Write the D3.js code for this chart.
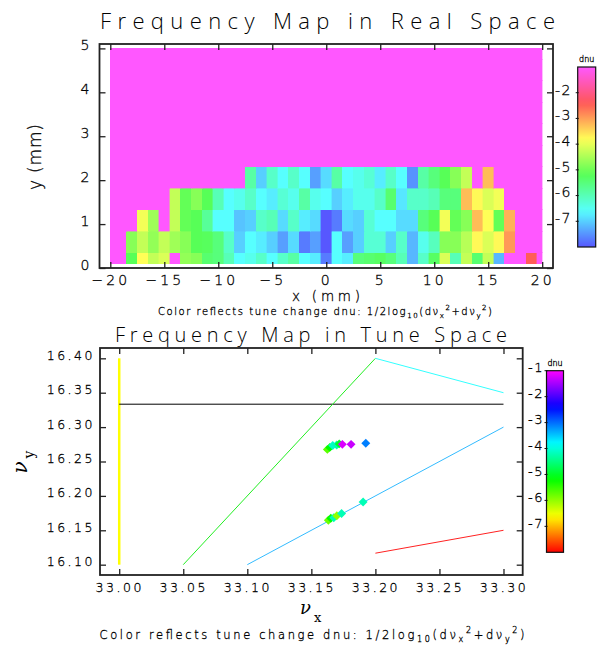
<!DOCTYPE html>
<html>
<head>
<meta charset="utf-8">
<script src="https://cdn.jsdelivr.net/npm/d3@7/dist/d3.min.js"></script>
<style>
  body { margin: 0; background: #fff; }
  svg text { font-family: "DejaVu Sans", sans-serif; font-weight: 200; fill: #000; stroke: #000; stroke-width: 0.3px; }
  svg text.title { font-family: "Open Sans", "DejaVu Sans", sans-serif; font-weight: 300; stroke: none; }
</style>
</head>
<body>
<div id="chart"></div>
<script>
/* DATA */
const _ = null; // lost particle (drawn with the top colour)

// real space grid, x in mm and y in mm
const xGrid = d3.range(-20, 21);
const yGrid = [0.1, 0.59, 1.08, 1.57, 2.06, 2.55, 3.04, 3.53, 4.02, 4.51, 5.0];

// dnu per cell, x = -20 .. 20, one array per y row (rows above y=2.06 are all lost)
const dnuRow0 = [_, _, -5.2, -3.8, -4.3, -4.1, _, -4.7, -4.8, -5.4, -5.5, -6.0, -6.6, -6.45, -6.15, -6.6, -6.15, -5.85, -6.6, -6.75,
  -7.7, -6.6, -6.75, -5.5, -5.4, -5.3, -5.5, -6.0, -7.2, -6.15, -5.3, -4.1, -6.0, -4.3, -5.4, -4.3, -7.2, _, _, -2.45, _];
const dnuRow1 = [_, _, -4.8, -4.3, -4.7, -4.3, -4.6, -4.8, -5.2, -5.25, -5.5, -6.15, -7.0, -6.6, -6.75, -7.0, -7.4, -6.9, -7.7, -7.4,
  -8.0, -6.6, -7.4, -7.0, -6.25, -6.25, -7.0, -6.15, -7.2, -6.45, -6.05, -4.8, -4.8, -4.4, -3.75, -4.1, -3.75, -2.95, _, _, _];
const dnuRow2 = [_, _, _, -3.9, -4.6, _, -4.3, -5.1, -5.2, -5.75, -6.6, -6.6, -7.1, -7.0, -6.15, -6.0, -6.9, -6.15, -6.75, -6.9,
  -8.0, -7.7, -6.9, -7.0, -6.25, -6.6, -6.6, -6.9, -6.9, -5.5, -5.2, -3.9, -5.1, -4.8, -3.25, -3.8, -5.1, -3.15, _, _, _];
const dnuRow3 = [_, _, _, _, _, _, -4.3, -5.1, -4.8, -5.2, -6.0, -6.6, -6.45, -6.15, -6.6, -6.75, -6.25, -6.45, -5.85, -6.45,
  -6.6, -7.0, -6.75, -6.45, -6.45, -6.15, -5.4, -6.8, -6.15, -6.15, -6.0, -5.5, -5.5, -3.25, -3.75, -4.1, -3.9, _, _, _, _];
const dnuRow4 = [_, _, _, _, _, _, _, _, _, _, _, _, _, -5.85, -7.0, -6.15, -6.6, -6.15, -6.6, -7.4,
  -6.9, -5.85, -6.6, -6.45, -6.25, -6.75, -6.15, -6.6, -7.5, -5.85, -5.5, -5.2, -4.8, -4.3, _, -3.25, _, _, _, _, _];
const dnuRows = [dnuRow0, dnuRow1, dnuRow2, dnuRow3, dnuRow4];

const realXTicks = [-20, -15, -10, -5, 0, 5, 10, 15, 20];
const realYTicks = [0, 1, 2, 3, 4, 5];
const realCbarTicks = [-2, -3, -4, -5, -6, -7];

// tune space
const tuneXTicks = [33.00, 33.05, 33.10, 33.15, 33.20, 33.25, 33.30];
const tuneYTicks = [16.10, 16.15, 16.20, 16.25, 16.30, 16.35, 16.40];
const tuneCbarTicks = [-1, -2, -3, -4, -5, -6, -7];

const tuneX = [33.1625, 33.1644, 33.1667, 33.1698, 33.1718, 33.1742, 33.1810, 33.1925,
  33.1633, 33.1652, 33.1675, 33.1699, 33.1736, 33.1904];
const tuneY = [16.2676, 16.2705, 16.2734, 16.2741, 16.2756, 16.2749, 16.2749, 16.2766,
  16.1646, 16.1675, 16.1682, 16.1711, 16.1745, 16.1912];
const tuneDnu = [-5.7, -5.2, -4.1, -4.2, -5.0, -1.2, -1.3, -3.1,
  -5.8, -5.2, -4.2, -6.0, -4.2, -4.2];

// resonance lines (start and end points)
const resX1 = [33.00, 33.00, 33.05, 33.20, 33.10, 33.20];
const resY1 = [16.10, 16.3333, 16.10, 16.40, 16.10, 16.1167];
const resX2 = [33.00, 33.30, 33.20, 33.30, 33.30, 33.30];
const resY2 = [16.40, 16.3333, 16.40, 16.35, 16.30, 16.15];
const resColors = ["#ffff00", "#000000", "#22ee22", "#33ffff", "#33bbff", "#ff2222"];
const resWidths = [2.5, 1, 1, 1, 1, 1];

/* SETUP */
const width = 602, height = 645;
const svg = d3.select("#chart").append("svg")
  .attr("width", width)
  .attr("height", height);

const hueReal = d3.scaleLinear().domain([-1, -8]).range([300, 600]).clamp(true);
const colorReal = v => d3.hsl(hueReal(v), 1, 0.67).formatHex();
const hueTune = d3.scaleLinear().domain([-1, -8]).range([300, 0]).clamp(true);
const colorTune = v => d3.hsl(hueTune(v), 1, 0.5).formatHex();

// draws a box with inward ticks on all four sides
function boxAxes(x, y, xt, yt, fmtX, fmtY, fontSize, spacing, padX, padY, shiftY) {
  const [x0, x1] = x.range(), [y0, y1] = y.range();
  const g = svg.append("g").attr("color", "#222");

  g.append("g").attr("transform", `translate(0,${y0})`)
    .call(d3.axisBottom(x).tickValues(xt).tickFormat(fmtX).tickSize(-6).tickPadding(padX));
  g.append("g").attr("transform", `translate(0,${y1})`)
    .call(d3.axisTop(x).tickValues(xt).tickFormat("").tickSize(-6));
  const left = g.append("g").attr("transform", `translate(${x0},0)`)
    .call(d3.axisLeft(y).tickValues(yt).tickFormat(fmtY).tickSize(-6).tickPadding(padY));
  g.append("g").attr("transform", `translate(${x1},0)`)
    .call(d3.axisRight(y).tickValues(yt).tickFormat("").tickSize(-6));

  g.selectAll(".domain").remove();
  g.selectAll(".tick line").attr("stroke-width", 1.3);
  g.selectAll("text")
    .attr("font-family", null)
    .attr("font-size", fontSize)
    .style("letter-spacing", spacing + "px");
  left.selectAll(".tick text").attr("y", shiftY);

  g.append("rect")
    .attr("x", x0).attr("y", y1)
    .attr("width", x1 - x0).attr("height", y0 - y1)
    .attr("fill", "none").attr("stroke", "#222").attr("stroke-width", 1.8);
}

function colorBar(id, values, colorFn, x, y0, y1, w, ticks, labelX, fontSize) {
  const scale = d3.scaleLinear().domain([-1, -8]).range([y0, y1]);
  const grad = svg.append("defs").append("linearGradient")
    .attr("id", id).attr("x1", 0).attr("x2", 0).attr("y1", 0).attr("y2", 1);
  grad.selectAll("stop").data(values).join("stop")
    .attr("offset", d => (scale(d) - y0) / (y1 - y0))
    .attr("stop-color", d => colorFn(d));
  svg.append("rect")
    .attr("x", x).attr("y", y0).attr("width", w).attr("height", y1 - y0)
    .attr("fill", `url(#${id})`).attr("stroke", "#111").attr("stroke-width", 1.2);
  svg.append("g").selectAll("line").data(ticks).join("line")
    .attr("x1", x - 2).attr("x2", x + 1)
    .attr("y1", d => scale(d)).attr("y2", d => scale(d))
    .attr("stroke", "#111");
  svg.append("g").selectAll("text").data(ticks).join("text")
    .attr("x", labelX).attr("y", d => scale(d) - 3)
    .attr("dy", "0.35em")
    .attr("font-size", fontSize)
    .style("letter-spacing", "1.5px")
    .text(d => d);
  svg.append("text")
    .attr("x", x + w / 2).attr("y", y0 - 5)
    .attr("text-anchor", "middle").attr("font-size", 8)
    .text("dnu");
}

function captionText(cx, cy, size, len) {
  const t = svg.append("text")
    .attr("x", cx).attr("y", cy)
    .attr("text-anchor", "middle")
    .attr("font-size", size)
    .attr("textLength", len)
    .attr("lengthAdjust", "spacing");
  const sub = size * 0.3, sup = size * 0.45, small = size * 0.7;
  t.append("tspan").text("Color reflects tune change dnu: 1/2log");
  t.append("tspan").attr("dy", sub).attr("font-size", small).text("10");
  t.append("tspan").attr("dy", -sub).text("(d\u03bd");
  t.append("tspan").attr("dy", sub).attr("font-size", small).text("x");
  t.append("tspan").attr("dy", -sub - sup).attr("font-size", small).text("2");
  t.append("tspan").attr("dy", sup).text("+d\u03bd");
  t.append("tspan").attr("dy", sub).attr("font-size", small).text("y");
  t.append("tspan").attr("dy", -sub - sup).attr("font-size", small).text("2");
  t.append("tspan").attr("dy", sup).text(")");
}

/* REAL SPACE */
const xReal = d3.scaleLinear().domain([-21, 21]).range([99.5, 553]);
const yReal = d3.scaleLinear().domain([0, 5.1]).range([268, 44]);

const cells = [];
yGrid.forEach((y, j) => {
  xGrid.forEach((x, i) => {
    const row = dnuRows[j];
    cells.push({ x: x, y: y, v: row ? row[i] : null });
  });
});
const halfY = 0.245;
const xLo = d => Math.max(d.x - 0.5, xGrid[0]), xHi = d => Math.min(d.x + 0.5, xGrid[xGrid.length - 1]);
const yLo = d => Math.max(d.y - halfY, yGrid[0]), yHi = d => Math.min(d.y + halfY, yGrid[yGrid.length - 1]);

svg.append("g").attr("shape-rendering", "crispEdges")
  .selectAll("rect").data(cells).join("rect")
  .attr("x", d => xReal(xLo(d)))
  .attr("width", d => xReal(xHi(d)) - xReal(xLo(d)))
  .attr("y", d => yReal(yHi(d)))
  .attr("height", d => yReal(yLo(d)) - yReal(yHi(d)))
  .attr("fill", d => colorReal(d.v == null ? -1 : d.v))
  .attr("stroke", d => colorReal(d.v == null ? -1 : d.v))
  .attr("stroke-width", 0.4);

boxAxes(xReal, yReal, realXTicks, realYTicks, d3.format("d"), d3.format("d"), 14, 3, 7, 7, -3);

svg.append("text").attr("class", "title")
  .attr("x", 327.5).attr("y", 29)
  .attr("text-anchor", "middle").attr("font-size", 22)
  .attr("textLength", 455).attr("lengthAdjust", "spacing")
  .text("Frequency Map in Real Space");

svg.append("text")
  .attr("transform", "translate(41,157) rotate(-90)")
  .attr("text-anchor", "middle").attr("font-size", 17)
  .attr("textLength", 66).attr("lengthAdjust", "spacing")
  .text("y (mm)");

svg.append("text")
  .attr("x", 326).attr("y", 301)
  .attr("text-anchor", "middle").attr("font-size", 13.5)
  .attr("textLength", 68).attr("lengthAdjust", "spacing")
  .text("x (mm)");

captionText(325, 314.5, 10, 334);

colorBar("cbReal", d3.range(-1, -8.01, -0.25), colorReal, 577.7, 67, 247, 18, realCbarTicks, 555, 14);

/* TUNE SPACE */
const xTune = d3.scaleLinear().domain([32.985, 33.315]).range([100, 522.7]);
const yTune = d3.scaleLinear().domain([16.085, 16.415]).range([575, 348]);

svg.append("g").selectAll("line").data(resX1).join("line")
  .attr("x1", (d, i) => xTune(resX1[i]))
  .attr("y1", (d, i) => yTune(resY1[i]))
  .attr("x2", (d, i) => xTune(resX2[i]))
  .attr("y2", (d, i) => yTune(resY2[i]))
  .attr("stroke", (d, i) => resColors[i])
  .attr("stroke-width", (d, i) => resWidths[i]);

svg.append("g").selectAll("path").data(tuneX).join("path")
  .attr("transform", (d, i) => `translate(${xTune(tuneX[i])},${yTune(tuneY[i])}) rotate(45)`)
  .attr("d", d3.symbol(d3.symbolSquare, 40))
  .attr("fill", (d, i) => colorTune(tuneDnu[i]));

boxAxes(xTune, yTune, tuneXTicks, tuneYTicks, d3.format(".2f"), d3.format(".2f"), 12.5, 2.5, 8, 5, -3);

svg.append("text").attr("class", "title")
  .attr("x", 311).attr("y", 342)
  .attr("text-anchor", "middle").attr("font-size", 20)
  .attr("textLength", 392).attr("lengthAdjust", "spacing")
  .text("Frequency Map in Tune Space");

const nuY = svg.append("text")
  .attr("transform", "translate(27,462) rotate(-90)")
  .attr("text-anchor", "middle")
  .style("font-family", "'DejaVu Serif', serif").style("font-style", "italic").style("stroke", "none")
  .attr("font-size", 20);
nuY.append("tspan").text("\u03bd");
nuY.append("tspan").attr("dy", 7).attr("dx", 3).attr("font-size", 14).style("font-style", "normal").text("y");

const nuX = svg.append("text")
  .attr("x", 300).attr("y", 614)
  .style("font-family", "'DejaVu Serif', serif").style("font-style", "italic").style("stroke", "none")
  .attr("font-size", 18);
nuX.append("tspan").text("\u03bd");
nuX.append("tspan").attr("dy", 8).attr("dx", 3).attr("font-size", 13).style("font-style", "normal").text("x");

captionText(312, 638.5, 11.5, 425);

colorBar("cbTune", d3.range(-1, -8.01, -0.25), colorTune, 546.5, 370.7, 552.3, 17, tuneCbarTicks, 528, 13);
</script>
</body>
</html>
